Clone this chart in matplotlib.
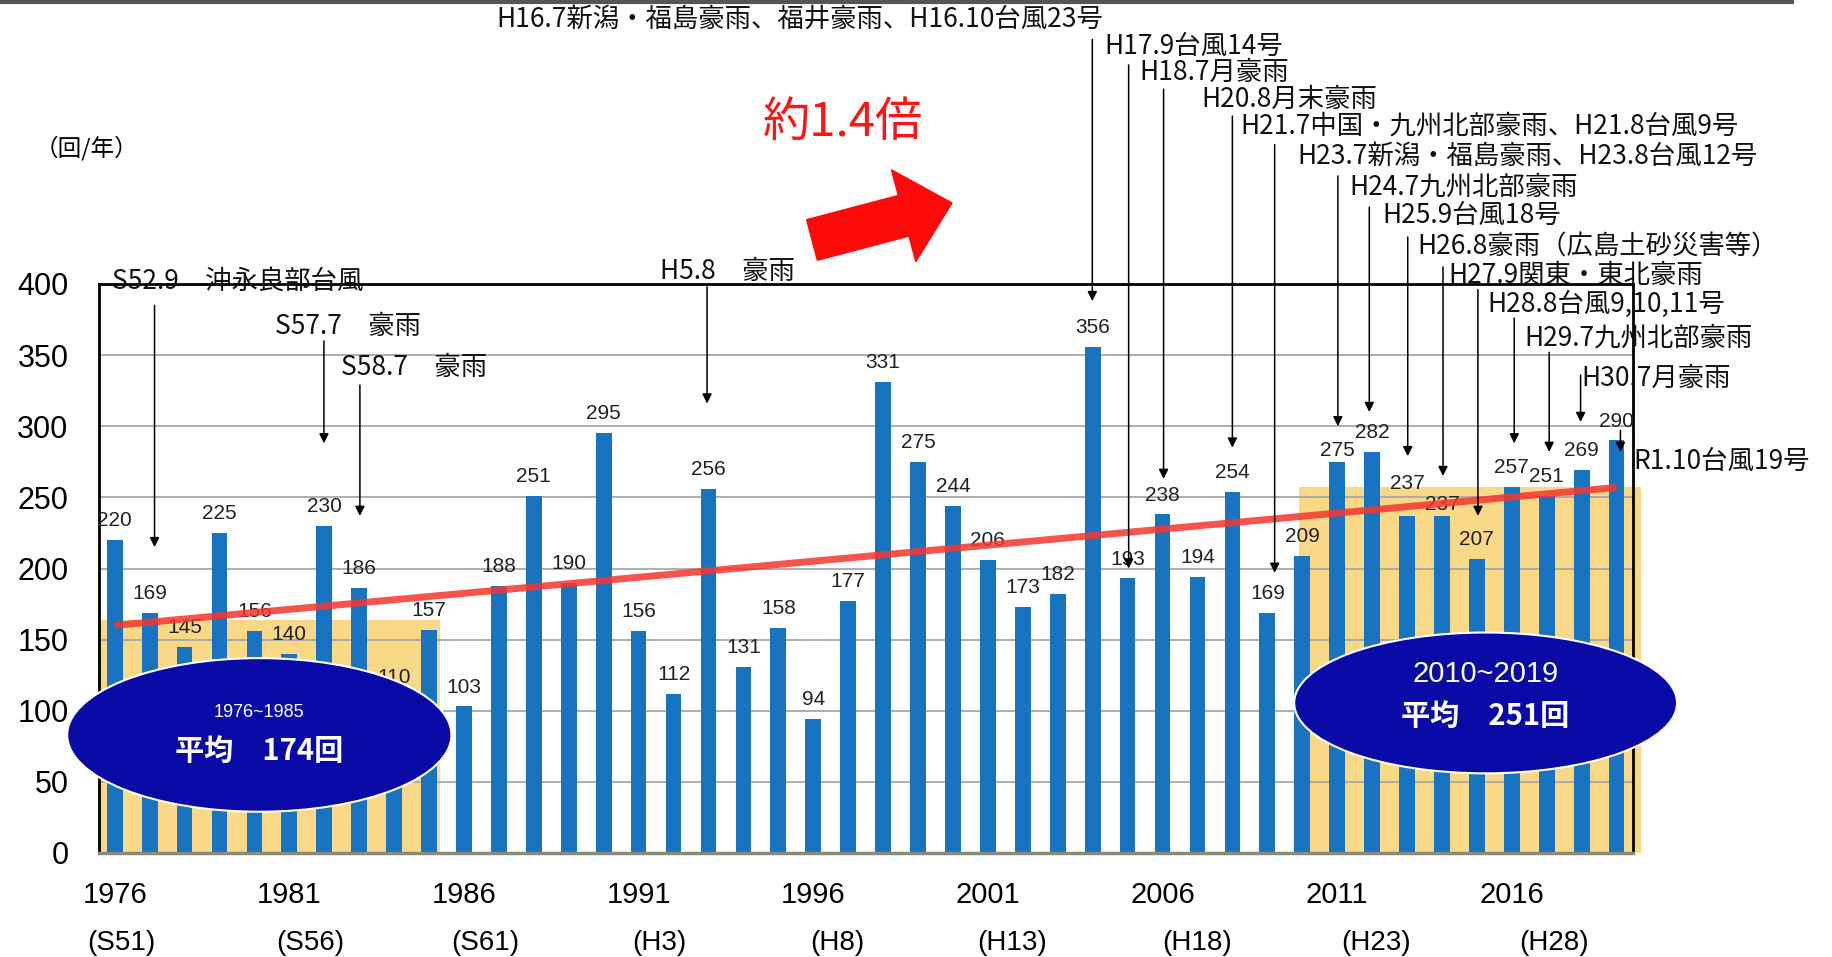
import matplotlib
matplotlib.use("Agg")
import matplotlib.pyplot as plt
from matplotlib.patches import Ellipse, Rectangle, FancyArrow
from matplotlib.lines import Line2D

plt.rcParams['font.family'] = ['Noto Sans CJK JP', 'DejaVu Sans']

# data
years = list(range(1976, 2020))
counts = [220, 169, 145, 225, 156, 140, 230, 186, 110, 157,
          103, 188, 251, 190, 295, 156, 112, 256, 131, 158,
          94, 177, 331, 275, 244, 206, 173, 182, 356, 193,
          238, 194, 254, 169, 209, 275, 282, 237, 237, 207,
          257, 251, 269, 290]
tick_years = [1976, 1981, 1986, 1991, 1996, 2001, 2006, 2011, 2016]
era_labels = ['(S51)', '(S56)', '(S61)', '(H3)', '(H8)', '(H13)', '(H18)', '(H23)', '(H28)']
trend_ends = [160, 257]
avg_early = 174
avg_late = 251

event_labels = [
    'S52.9　沖永良部台風',
    'S57.7　豪雨',
    'S58.7　豪雨',
    'H5.8　豪雨',
    'H16.7新潟・福島豪雨、福井豪雨、H16.10台風23号',
    'H17.9台風14号',
    'H18.7月豪雨',
    'H20.8月末豪雨',
    'H21.7中国・九州北部豪雨、H21.8台風9号',
    'H23.7新潟・福島豪雨、H23.8台風12号',
    'H24.7九州北部豪雨',
    'H25.9台風18号',
    'H26.8豪雨（広島土砂災害等）',
    'H27.9関東・東北豪雨',
    'H28.8台風9,10,11号',
    'H29.7九州北部豪雨',
    'H30.7月豪雨',
    'R1.10台風19号',
]

# layout of the annotations: text (left x, y) and arrow (x, top, tip)
event_text_pos = [(1975.93, 402), (1980.58, 370), (1982.49, 341), (1991.62, 409),
                  (1986.94, 586), (2004.33, 567), (2005.33, 549), (2007.1, 530),
                  (2008.24, 511), (2009.85, 490), (2011.35, 468), (2012.29, 448),
                  (2013.29, 426), (2014.19, 406), (2015.3, 386), (2016.37, 362),
                  (2018.0, 334), (2019.48, 275)]
event_arrows = [(1977.14, 385, 215), (1981.99, 360, 288), (1983.02, 329, 237),
                (1992.96, 398, 316), (2003.99, 572, 388), (2005.03, 554, 200),
                (2006.03, 537, 263), (2008.0, 518, 285), (2009.21, 498, 197),
                (2011.02, 476, 300), (2011.92, 454, 310), (2013.02, 433, 279),
                (2014.03, 412, 265), (2015.03, 396, 237), (2016.07, 376, 288),
                (2017.07, 352, 282), (2017.97, 336, 303), (2019.11, 297, 282)]

# value labels that sit higher / lower than the rest (points above bar top)
label_offset = {2011: 8, 2013: 23, 2014: 8}

num_font = ['Liberation Sans', 'DejaVu Sans']


def main():
    fig = plt.figure(figsize=(18.32, 9.57), dpi=100)
    ax = fig.add_axes([99 / 1832, 1 - 853 / 957, 1534 / 1832, 569 / 957])

    # shaded periods
    ax.add_patch(Rectangle((1975.55, 0), 1985.32 - 1975.55, 164,
                           facecolor='#F9D987', edgecolor='none', zorder=0))
    ax.add_patch(Rectangle((2009.9, 0), 2019.7 - 2009.9, 257,
                           facecolor='#F9D987', edgecolor='none', zorder=0, clip_on=False))

    for v in range(50, 400, 50):
        ax.axhline(v, color='#A8A8A8', lw=1.3, zorder=0.5)

    ax.bar(years, counts, width=0.45, color='#1874C1', zorder=2)

    for x, v in zip(years, counts):
        ax.annotate(str(v), (x, v), xytext=(0, label_offset.get(x, 14)),
                    textcoords='offset points', ha='center', va='center',
                    fontsize=15, family=num_font, color='#222222', zorder=3)

    ax.plot([years[0], years[-1]], trend_ends, color='#F5362E', lw=5,
            alpha=0.85, solid_capstyle='butt', zorder=4)

    # average ellipses
    ax.add_patch(Ellipse((1980.14, 83), 11.0, 108, facecolor='#0A0AA6',
                         edgecolor='white', lw=1.5, zorder=6, clip_on=False))
    ax.add_patch(Ellipse((2015.25, 105.5), 10.96, 99, facecolor='#0A0AA6',
                         edgecolor='white', lw=1.5, zorder=6, clip_on=False))
    ax.text(1980.14, 99, '1976~1985', ha='center', va='center', color='white',
            fontsize=13, family=num_font, zorder=7)
    ax.text(1980.14, 72, f'平均　{avg_early}回', ha='center', va='center', color='white',
            fontsize=21, fontweight='bold', zorder=7)
    ax.text(2015.25, 126, '2010~2019', ha='center', va='center', color='white',
            fontsize=21, family=num_font, zorder=7)
    ax.text(2015.25, 96, f'平均　{avg_late}回', ha='center', va='center', color='white',
            fontsize=21, fontweight='bold', zorder=7)

    # event annotations
    for label, (tx, ty), (lx, top, tip) in zip(event_labels, event_text_pos, event_arrows):
        ax.text(tx, ty, label, ha='left', va='center', fontsize=19,
                color='#111111', zorder=8, clip_on=False)
        ax.annotate('', xy=(lx, tip), xytext=(lx, top), annotation_clip=False,
                    arrowprops=dict(arrowstyle='-|>', color='black', lw=1.1,
                                    mutation_scale=14, shrinkA=0, shrinkB=0),
                    zorder=8)

    ax.set_xlim(1975.55, 2019.47)
    ax.set_ylim(0, 400)
    ax.set_yticks(range(0, 401, 50))
    ax.set_xticks(tick_years)
    ax.set_xticklabels([str(y) for y in tick_years], family=num_font)
    ax.set_yticklabels([str(v) for v in range(0, 401, 50)], family=num_font)
    ax.tick_params(axis='y', length=0, labelsize=22, pad=22)
    ax.tick_params(axis='x', length=0, labelsize=21, pad=20)

    for s in ['left', 'top', 'right']:
        ax.spines[s].set_color('black')
        ax.spines[s].set_linewidth(2)
    ax.spines['bottom'].set_color('#8A8A7A')
    ax.spines['bottom'].set_linewidth(2.5)

    era_x = [1976.2, 1981.6, 1986.6, 1991.6, 1996.7, 2001.7, 2007.0, 2012.1, 2017.2]
    for x, lab in zip(era_x, era_labels):
        ax.text(x, -0.158, lab, transform=ax.get_xaxis_transform(), ha='center',
                va='center', fontsize=20,
                family=['Liberation Sans Narrow', 'Liberation Sans', 'DejaVu Sans'])

    fig.text(35 / 1832, 1 - 148 / 957, '（回/年）', fontsize=17, va='center')
    fig.text(843 / 1832, 1 - 123 / 957, '約1.4倍', fontsize=34, color='#FF1414',
             ha='center', va='center')
    fig.patches.append(FancyArrow(8.12, 7.17, 1.40, 0.37, width=0.42, head_width=0.95,
                                  head_length=0.5, length_includes_head=True,
                                  color='#FF0A0A', transform=fig.dpi_scale_trans,
                                  figure=fig))
    fig.add_artist(Line2D([0, 0.978], [0.998, 0.998], color='#555555', lw=3))

    fig.savefig('out.png', dpi=100, facecolor='white')


if __name__ == "__main__":
    main()
